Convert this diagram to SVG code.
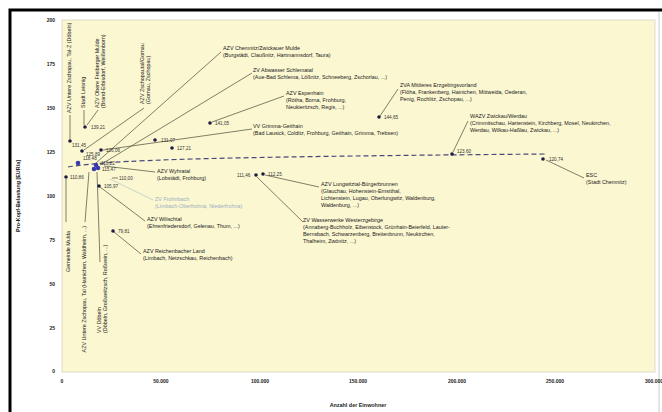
<svg xmlns="http://www.w3.org/2000/svg" width="662" height="412" viewBox="0 0 662 412">
<style>
text{font-family:"Liberation Sans",Arial,sans-serif;fill:#222}
.lb{font-size:5.4px}
.v{font-size:4.6px;fill:#333}
.ax{font-size:5px;font-weight:bold}
.tt{font-size:5.4px;font-weight:bold}
.pt{fill:#1c1c44}
.pb{fill:#3a3aa8}
.ld{stroke:#4a4a3a;stroke-width:0.7;fill:none}
.lt{font-size:5.4px;fill:#9ab0c0}
</style>
<rect x="0" y="0" width="662" height="412" fill="#ffffff"/>
<path d="M10 412 V10 H662" fill="none" stroke="#000" stroke-width="3"/>
<line x1="659" y1="12" x2="659" y2="412" stroke="#ccc" stroke-width="1"/>
<rect id="plot" x="62" y="20" width="593" height="352" fill="#fbf7d1" stroke="#d8d2c0" stroke-width="0.8"/>
<g id="yaxis" class="ax" text-anchor="end">
<text x="55" y="22">200</text><text x="55" y="66">175</text><text x="55" y="110">150</text>
<text x="55" y="154">125</text><text x="55" y="198">100</text><text x="55" y="242">75</text>
<text x="55" y="286">50</text><text x="55" y="330">25</text><text x="55" y="373">0</text>
</g>
<g id="xaxis" class="ax" text-anchor="middle">
<text x="62" y="383">0</text><text x="161" y="383">50.000</text><text x="260" y="383">100.000</text>
<text x="358" y="383">150.000</text><text x="457" y="383">200.000</text><text x="555" y="383">250.000</text><text x="654" y="383">300.000</text>
</g>
<text class="tt" transform="translate(20,196) rotate(-90)" text-anchor="middle">Pro-Kopf-Belastung [EUR/a]</text>
<text class="tt" x="358" y="407" text-anchor="middle">Anzahl der Einwohner</text>
<path id="trend" d="M68 167 C110 160,200 157,546 154" fill="none" stroke="#4a4a78" stroke-width="1.2" stroke-dasharray="5,3"/>
<g id="connectors" class="ld">
<line x1="70" y1="115" x2="70" y2="139"/>
<line x1="84" y1="110" x2="84" y2="125"/>
<line x1="98" y1="110" x2="87" y2="125"/>
<line x1="144" y1="108" x2="84" y2="150"/>
<line x1="221" y1="52" x2="96" y2="163"/>
<line x1="252" y1="73" x2="100" y2="165"/>
<line x1="284" y1="96" x2="212" y2="122"/>
<line x1="252" y1="129" x2="103" y2="150"/>
<line x1="398" y1="89" x2="380" y2="116"/>
<line x1="468" y1="121" x2="453" y2="152"/>
<line x1="584" y1="178" x2="546" y2="160"/>
<line x1="319" y1="187" x2="265" y2="175"/>
<line x1="303" y1="222" x2="257" y2="177"/>
<line x1="155" y1="172" x2="104" y2="166"/>
<line x1="153" y1="200" x2="110" y2="179" stroke="#b0c4d0"/>
<line x1="145" y1="221" x2="100" y2="187"/>
<line x1="141" y1="254" x2="114" y2="232"/>
<line x1="66" y1="179" x2="66" y2="222"/>
<line x1="89" y1="172" x2="85" y2="222"/>
<line x1="97" y1="172" x2="100" y2="262"/>
<line x1="112" y1="178" x2="118" y2="178"/>
</g>
<g id="n-untere-zschopau-top"><text class="lb" transform="translate(71,113) rotate(-90)">AZV Untere Zschopau, Tal-Z (Döbeln)</text><circle class="pt" cx="70" cy="141" r="1.8"/><text class="v" x="72" y="147">131,45</text></g>
<g id="n-leisnig"><text class="lb" transform="translate(85,108) rotate(-90)">Stadt Leisnig</text></g>
<g id="n-obere-freiberger"><text class="lb" transform="translate(99,108) rotate(-90)">AZV Obere Freiberger Mulde</text><text class="lb" transform="translate(105,108) rotate(-90)">(Brand-Erbisdorf, Weißenborn)</text><circle class="pt" cx="85" cy="127" r="1.8"/><text class="v" x="91" y="129">139,21</text></g>
<g id="n-zschopautal"><text class="lb" transform="translate(144,104) rotate(-90)">AZV Zschopautal/Gornau</text><text class="lb" transform="translate(150,104) rotate(-90)">(Gornau, Zschopau)</text><circle class="pt" cx="82" cy="151" r="1.8"/><text class="v" x="86" y="156">125,89</text></g>
<g id="n-chemnitz-nord"><text class="lb" x="223" y="50">AZV Chemnitz/Zwickauer Mulde</text><text class="lb" x="223" y="57">(Burgstädt, Claußnitz, Hartmannsdorf, Taura)</text></g>
<g id="n-schlematal"><text class="lb" x="253" y="72">ZV Abwasser Schlematal</text><text class="lb" x="253" y="79">(Aue-Bad Schlema, Lößnitz, Schneeberg, Zschorlau, ...)</text></g>
<g id="n-espenhain"><text class="lb" x="286" y="95">AZV Espenhain</text><text class="lb" x="286" y="102">(Rötha, Borna, Frohburg,</text><text class="lb" x="286" y="109">Neukieritzsch, Regis, ...)</text><circle class="pt" cx="210" cy="123" r="1.8"/><text class="v" x="215" y="125">141,05</text></g>
<g id="n-grimma"><text class="lb" x="253" y="128">VV Grimma-Geithain</text><text class="lb" x="253" y="135">(Bad Lausick, Colditz, Frohburg, Geithain, Grimma, Trebsen)</text><circle class="pt" cx="101" cy="150" r="1.8"/><text class="v" x="106" y="152">126,06</text></g>
<g id="n-p131"><circle class="pt" cx="155" cy="140" r="1.8"/><text class="v" x="161" y="142">131,07</text></g>
<g id="n-p127"><circle class="pt" cx="172" cy="148" r="1.8"/><text class="v" x="177" y="150">127,21</text></g>
<g id="n-mittleres-erzgeb"><text class="lb" x="400" y="87">ZVA Mittleres Erzgebirgsvorland</text><text class="lb" x="400" y="94">(Flöha, Frankenberg, Hainichen, Mittweida, Oederan,</text><text class="lb" x="400" y="101">Penig, Rochlitz, Zschopau, ...)</text><circle class="pt" cx="379" cy="117" r="1.8"/><text class="v" x="384" y="119">144,65</text></g>
<g id="n-wazv"><text class="lb" x="470" y="118">WAZV Zwickau/Werdau</text><text class="lb" x="470" y="125">(Crimmitschau, Hartenstein, Kirchberg, Mosel, Neukirchen,</text><text class="lb" x="470" y="132">Werdau, Wilkau-Haßlau, Zwickau, ...)</text><circle class="pt" cx="452" cy="154" r="1.8"/><text class="v" x="457" y="153">123,60</text></g>
<g id="n-esc"><text class="lb" x="586" y="177">ESC</text><text class="lb" x="586" y="184">(Stadt Chemnitz)</text><circle class="pt" cx="543" cy="159" r="1.8"/><text class="v" x="549" y="161">120,74</text></g>
<g id="n-lungwitztal"><text class="lb" x="321" y="186">AZV Lungwitztal-Bürgerbrunnen</text><text class="lb" x="321" y="193">(Glauchau, Hohenstein-Ernstthal,</text><text class="lb" x="321" y="200">Lichtenstein, Lugau, Oberlungwitz, Waldenburg,</text><text class="lb" x="321" y="207">Waldenburg, ...)</text><circle class="pt" cx="263" cy="174" r="1.8"/><text class="v" x="268" y="176">112,25</text></g>
<g id="n-westerzgebirge"><text class="lb" x="303" y="222">ZV Wasserwerke Westerzgebirge</text><text class="lb" x="303" y="229">(Annaberg-Buchholz, Eibenstock, Grünhain-Beierfeld, Lauter-</text><text class="lb" x="303" y="236">Bernsbach, Schwarzenberg, Breitenbrunn, Neukirchen,</text><text class="lb" x="303" y="243">Thalheim, Zwönitz, ...)</text><circle class="pt" cx="256" cy="175" r="1.8"/><text class="v" x="237" y="177">111,46</text></g>
<g id="n-wyhratal"><text class="lb" x="157" y="173">AZV Wyhratal</text><text class="lb" x="157" y="180">(Lobstädt, Frohburg)</text></g>
<g id="n-frohnbach"><text class="lt" x="155" y="201">ZV Frohnbach</text><text class="lt" x="155" y="208">(Limbach-Oberfrohna, Niederfrohna)</text></g>
<g id="n-wilischtal"><text class="lb" x="147" y="221">AZV Wilischtal</text><text class="lb" x="147" y="228">(Ehrenfriedersdorf, Gelenau, Thum, ...)</text><circle class="pt" cx="99" cy="186" r="1.8"/><text class="v" x="104" y="188">105,97</text></g>
<g id="n-reichenbach"><text class="lb" x="143" y="253">AZV Reichenbacher Land</text><text class="lb" x="143" y="260">(Limbach, Netzschkau, Reichenbach)</text><circle class="pt" cx="113" cy="231" r="1.8"/><text class="v" x="118" y="233">79,81</text></g>
<g id="n-mulda"><text class="lb" transform="translate(70,272) rotate(-90)">Gemeinde Mulda</text><circle class="pt" cx="66" cy="177" r="1.8"/><text class="v" x="70" y="179">110,86</text></g>
<g id="n-untere-zschopau-bottom"><text class="lb" transform="translate(86,226) rotate(-90)" text-anchor="end">AZV Untere Zschopau, Tal (Hainichen, Waldheim, ...)</text></g>
<g id="n-doebeln"><text class="lb" transform="translate(101,333) rotate(-90)">VV Döbeln</text><text class="lb" transform="translate(107,333) rotate(-90)">(Döbeln, Großweitzsch, Roßwein, ...)</text></g>
<g id="n-cluster">
<circle class="pb" cx="78" cy="163" r="2.3"/><text class="v" x="83" y="160">118,48</text>
<circle class="pb" cx="96" cy="165" r="2.3"/><text class="v" x="101" y="165">116,22</text>
<circle class="pb" cx="94" cy="169" r="2.3"/>
<circle class="pb" cx="98" cy="168" r="2.3"/><text class="v" x="102" y="171">115,47</text>
<text class="v" x="119" y="180">110,00</text>
</g>
</svg>
